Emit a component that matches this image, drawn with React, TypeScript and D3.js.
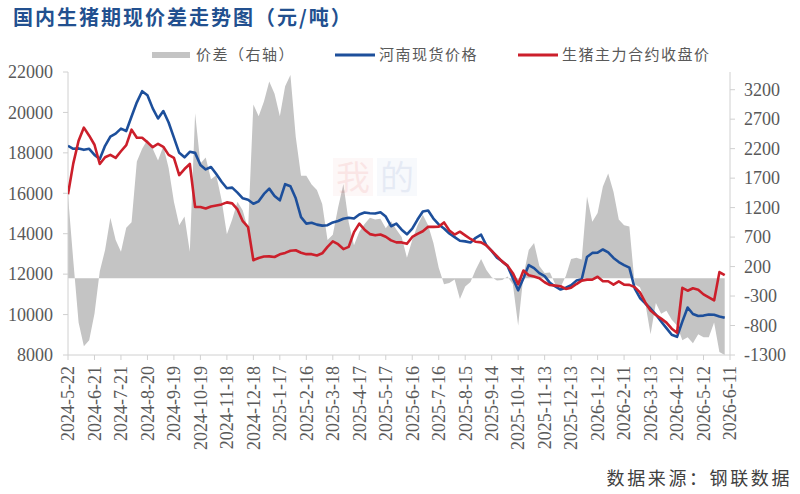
import React from 'react';
import * as d3 from 'd3';

// samples every 6 days starting 2024-05-22
const START = new Date(2024, 4, 22);
const STEP_DAYS = 6;

const henanSpot = [
  18350, 18200, 18220, 18150, 18200, 17900, 17700, 18350, 18800, 18950,
  19200, 19080, 19800, 20500, 21050, 20850, 20200, 19700, 20070, 19500,
  18750, 18000, 17780, 18050, 18000, 17400, 17180, 17300, 16950, 16570,
  16250, 16280, 16030, 15750, 15680, 15480, 15600, 15970, 16230, 15870,
  15650, 16450, 16350, 15750, 14820, 14500, 14540, 14450, 14400, 14420,
  14560, 14630, 14740, 14790, 14750, 14950, 15050, 15010, 15000, 15060,
  14850, 14370, 14500, 14200, 13970, 14250, 14700, 15100, 15150, 14750,
  14460, 14260, 14010, 13830, 13650, 13620, 13570, 13800, 13950, 13420,
  13150, 12810, 12630, 12400, 11800, 11200, 11800, 12450, 12300, 12050,
  11900, 11570, 11390, 11240, 11330, 11450, 11680, 11750, 12850, 13050,
  13060, 13220, 13080, 12800, 12600, 12450, 12320, 11300, 10820, 10550,
  10300, 10000, 9660, 9330, 9000, 8900, 9650, 10350, 10030, 9930,
  9950, 10000, 9990, 9910, 9840,
];

const hogFutures = [
  15950, 17480, 18600, 19250, 18850, 18400, 17450, 17780, 17900, 17750,
  18080, 18380, 19150, 18750, 18750, 18520, 18280, 18450, 18300, 17900,
  17750, 16900, 17200, 17450, 15320, 15320, 15250, 15350, 15400, 15450,
  15550, 15500, 15200, 14620, 14330, 12690, 12800, 12870, 12880, 12850,
  12980, 13050, 13160, 13180, 13060, 12990, 12990, 12920, 13030, 13350,
  13620, 13480, 13240, 13350, 14080, 14500, 14200, 13980, 13920, 13960,
  13850, 13670, 13570, 13570, 13500, 13840, 13990, 14120, 14340, 14340,
  14350, 14560, 14160, 13960, 14100, 13920, 13740, 13600, 13570, 13420,
  13150, 12890, 12620, 12420, 12050, 11500, 12180, 11950, 11880, 11800,
  11600, 11460, 11430, 11400, 11270, 11330, 11510, 11680, 11730, 11730,
  11870, 11650, 11650, 11480, 11640, 11480, 11470, 11360, 11100, 10600,
  10200, 9980, 9800, 9600, 9300, 9100, 11320, 11180, 11300, 11230,
  11000, 10850, 10700, 12100, 11950,
];

const basisSpread = [
  1400, 300, -750, -1150, -1050, -600, 120, 480, 1030, 650,
  450, 860, 950, 1980, 2200, 2350, 2200, 2000, 2240, 1870,
  1300, 900, 1050, 450, 2800, 1950, 2050, 1680, 1750, 1330,
  750, 1000, 1300, 1150, 830, 2950, 2750, 3000, 3340, 3130,
  2750, 3260, 3450, 2400, 1740, 1740, 1590, 1500, 1260, 650,
  740, 1200, 1600, 950, 560, 790, 920, 1030, 1000, 1010,
  850, 970, 830, 700, 350, 650, 900, 1080, 900, 600,
  180, -100, -80, -20, -350, -140, -60, 150, 330, 140,
  20, -35, -30, 30, -100, -800, 50, 480, 600, 210,
  90, 100, -100, -150, 40, 330, 350, 320, 1390, 960,
  1110, 1560, 1780, 1470, 1000, 900, 880, -100, -150, -420,
  -950, -420, -600, -550, -700, -800, -1050, -1000, -1100, -950,
  -1000, -1000, -750, -1250, -1300,
];

const leftTicks = [8000, 10000, 12000, 14000, 16000, 18000, 20000, 22000];
const rightTicks = [-1300, -800, -300, 200, 700, 1200, 1700, 2200, 2700, 3200];
const xTickLabels = [
  '2024-5-22', '2024-6-21', '2024-7-21', '2024-8-20', '2024-9-19', '2024-10-19',
  '2024-11-18', '2024-12-18', '2025-1-17', '2025-2-16', '2025-3-18', '2025-4-17',
  '2025-5-17', '2025-6-16', '2025-7-16', '2025-8-15', '2025-9-14', '2025-10-14',
  '2025-11-13', '2025-12-13', '2026-1-12', '2026-2-11', '2026-3-13', '2026-4-12',
  '2026-5-12', '2026-6-11',
];

const WIDTH = 800;
const HEIGHT = 494;
const margin = { top: 72, right: 70, bottom: 139, left: 68 };

const SERIF = "'Liberation Serif', 'Times New Roman', serif";
const CJK = "'Noto Sans CJK SC', sans-serif";
const BLUE = '#1d4f9b';
const RED = '#cc1f2b';
const GRAY = '#c4c4c4';
const AXIS = '#d0d0d0';
const TEXT = '#595959';

function parseLabel(s: string) {
  const [y, m, d] = s.split('-').map(Number);
  return new Date(y, m - 1, d);
}

export default function App() {
  const left = margin.left;
  const right = WIDTH - margin.right;
  const top = margin.top;
  const bottom = HEIGHT - margin.bottom;

  const dates = henanSpot.map((_, i) => d3.timeDay.offset(START, i * STEP_DAYS));
  const tickDates = xTickLabels.map(parseLabel);

  const x = d3
    .scaleTime()
    .domain([tickDates[0], tickDates[tickDates.length - 1]])
    .range([left, right]);
  const yL = d3.scaleLinear().domain([8000, 22000]).range([bottom, top]);
  const yR = d3.scaleLinear().domain([-1300, 3500]).range([bottom, top]);

  const spreadArea = d3
    .area<number>()
    .x((d, i) => x(dates[i]))
    .y0(yR(0))
    .y1((d) => yR(d));

  const priceLine = d3
    .line<number>()
    .x((d, i) => x(dates[i]))
    .y((d) => yL(d));

  return (
    <div style={{ position: 'absolute', left: 0, top: 0 }}>
      <svg width={WIDTH} height={HEIGHT} style={{ display: 'block', background: '#fff' }}>
        <defs>
          <clipPath id="plot-clip">
            <rect x={left} y={top} width={right - left} height={bottom - top} />
          </clipPath>
        </defs>

        {/* title */}
        <text x={13} y={25} fontFamily={CJK} fontSize={20} fontWeight="bold" fill="#22508f" letterSpacing={2}>
          国内生猪期现价差走势图（元/吨）
        </text>

        {/* legend */}
        <g fontFamily={CJK} fontSize={15} fill={TEXT} letterSpacing={1.5}>
          <rect x={152} y={52} width={38} height={6} fill={GRAY} />
          <text x={196} y={60}>价差（右轴）</text>
          <line x1={335} x2={375} y1={55} y2={55} stroke={BLUE} strokeWidth={3} />
          <text x={379} y={60}>河南现货价格</text>
          <line x1={518} x2={558} y1={55} y2={55} stroke={RED} strokeWidth={3} />
          <text x={562} y={60}>生猪主力合约收盘价</text>
        </g>

        {/* spread area on right axis */}
        <g clipPath="url(#plot-clip)">
          <path d={spreadArea(basisSpread) || ''} fill={GRAY} stroke="none" />
        </g>

        {/* faint watermark */}
        <g fontFamily={CJK} fontSize={34} opacity={0.1}>
          <rect x={333} y={158} width={40} height={38} fill="#f2b8b8" />
          <rect x={377} y={158} width={40} height={38} fill="#b8c8ec" />
          <text x={336} y={190} fill="#d01010">我</text>
          <text x={380} y={190} fill="#1040a0">的</text>
        </g>

        {/* axes */}
        <g stroke={AXIS} strokeWidth={1}>
          <line x1={left} x2={left} y1={top} y2={bottom} />
          <line x1={right} x2={right} y1={top} y2={bottom} />
          <line x1={left} x2={right} y1={bottom} y2={bottom} />
          {leftTicks.map((t) => (
            <line key={'lt' + t} x1={left - 5} x2={left} y1={yL(t)} y2={yL(t)} />
          ))}
          {rightTicks.map((t) => (
            <line key={'rt' + t} x1={right} x2={right + 5} y1={yR(t)} y2={yR(t)} />
          ))}
          {tickDates.map((d, i) => (
            <line key={'xt' + i} x1={x(d)} x2={x(d)} y1={bottom} y2={bottom + 5} />
          ))}
        </g>

        {/* price lines */}
        <g clipPath="url(#plot-clip)" fill="none" strokeWidth={2.6} strokeLinejoin="round">
          <path d={priceLine(henanSpot) || ''} stroke={BLUE} />
          <path d={priceLine(hogFutures) || ''} stroke={RED} />
        </g>

        {/* tick labels */}
        <g fontFamily={SERIF} fontSize={18} fill={TEXT}>
          {leftTicks.map((t) => (
            <text key={'ll' + t} x={53} y={yL(t)} dy="0.35em" textAnchor="end">
              {t}
            </text>
          ))}
          {rightTicks.map((t) => (
            <text key={'rl' + t} x={744} y={yR(t)} dy="0.35em" textAnchor="start">
              {t}
            </text>
          ))}
          {tickDates.map((d, i) => (
            <text
              key={'xl' + i}
              transform={`translate(${x(d)},${bottom + 11}) rotate(-90)`}
              dy="0.35em"
              textAnchor="end"
            >
              {xTickLabels[i]}
            </text>
          ))}
        </g>

        {/* source */}
        <text x={792} y={485} textAnchor="end" fontFamily={CJK} fontSize={18} fill="#404040" letterSpacing={2.6}>
          数据来源：钢联数据
        </text>
      </svg>
    </div>
  );
}
